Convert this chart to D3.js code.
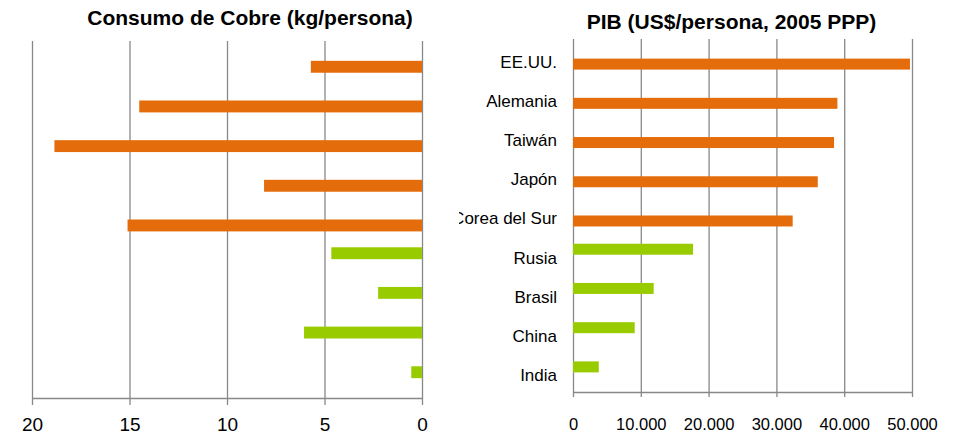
<!DOCTYPE html>
<html lang="es">
<head>
  <meta charset="UTF-8">
  <title>Consumo de Cobre y PIB</title>
  <script src="https://cdn.jsdelivr.net/npm/d3@7"></script>
  <style>
    body { margin: 0; background: #fff; }
    svg { display: block; font-family: "Liberation Sans", Arial, sans-serif; }
  </style>
</head>
<body>
<svg></svg>
<script>
  const width = 956, height = 435

  // datos
  const paises = ['EE.UU.', 'Alemania', 'Taiwán', 'Japón', 'Corea del Sur', 'Rusia', 'Brasil', 'China', 'India']
  const grupo = ['des', 'des', 'des', 'des', 'des', 'eme', 'eme', 'eme', 'eme']
  const cobre = [5.7, 14.5, 18.85, 8.1, 15.1, 4.65, 2.25, 6.05, 0.55]
  const pib = [49700, 39000, 38500, 36100, 32400, 17700, 11900, 9100, 3800]
  const ticksCobre = [0, 5, 10, 15, 20]
  const ticksPib = [0, 10000, 20000, 30000, 40000, 50000]
  const series = ['eme', 'des']
  const colores = {des: '#E46C0A', eme: '#99CC00'}

  const data = paises.map((p, i) => ({pais: p, grupo: grupo[i], cobre: cobre[i], pib: pib[i]}))

  const gris = '#888'
  const fmt = d3.formatLocale({decimal: ',', thousands: '.', grouping: [3], currency: ['$', '']}).format(',d')

  const svg = d3.select('svg')
      .attr('width', width)
      .attr('height', height)
      .attr('viewBox', [0, 0, width, height])

  // ---------- izquierda: consumo de cobre ----------
  const L = {top: 41, bottom: 398, left: 32, right: 422}

  const xL = d3.scaleLinear().domain([0, 20]).range([L.right, L.left])
  const yL = d3.scaleBand().domain(paises).range([L.top, L.bottom]).paddingInner(0.4).paddingOuter(0.2)
  const sL = d3.scaleBand().domain(series).range([0, yL.bandwidth()])

  svg.append('text')
      .attr('x', 250).attr('y', 25)
      .attr('text-anchor', 'middle')
      .attr('font-weight', 'bold')
      .attr('font-size', 21)
      .text('Consumo de Cobre (kg/persona)')

  // rejilla
  svg.append('g')
      .attr('transform', `translate(0,${L.bottom})`)
      .call(d3.axisBottom(xL).tickValues(ticksCobre).tickSize(-(L.bottom - L.top)).tickFormat(''))
      .call(g => g.select('.domain').remove())
      .call(g => g.selectAll('line').attr('stroke', gris).attr('stroke-width', 1.3))

  svg.append('g')
      .selectAll('rect')
      .data(data)
      .join('rect')
      .attr('x', d => xL(d.cobre))
      .attr('y', d => yL(d.pais) + sL(d.grupo))
      .attr('width', d => xL(0) - xL(d.cobre))
      .attr('height', sL.bandwidth())
      .attr('fill', d => colores[d.grupo])

  // eje X
  svg.append('g')
      .attr('transform', `translate(0,${L.bottom})`)
      .call(d3.axisBottom(xL).tickValues(ticksCobre).tickSize(7).tickSizeOuter(0).tickPadding(13))
      .call(g => g.select('.domain').attr('stroke', gris).attr('stroke-width', 1.5))
      .call(g => g.selectAll('line').attr('stroke', gris).attr('stroke-width', 1.3))
      .call(g => g.selectAll('text').attr('font-size', 19).attr('fill', '#000')
          .attr('font-family', '"Liberation Sans", Arial, sans-serif'))

  // ---------- derecha: PIB ----------
  const R = {top: 39, bottom: 392, left: 573, right: 912}

  const xR = d3.scaleLinear().domain([0, 50000]).range([R.left, R.right])
  const yR = d3.scaleBand().domain(paises).range([R.top, R.bottom]).paddingInner(0.44).paddingOuter(0.22)
  const sR = d3.scaleBand().domain(series).range([0, yR.bandwidth()])

  svg.append('text')
      .attr('x', 731.5).attr('y', 29)
      .attr('text-anchor', 'middle')
      .attr('font-weight', 'bold')
      .attr('font-size', 21)
      .text('PIB (US$/persona, 2005 PPP)')

  svg.append('g')
      .attr('transform', `translate(0,${R.bottom})`)
      .call(d3.axisBottom(xR).tickValues(ticksPib).tickSize(-(R.bottom - R.top)).tickFormat(''))
      .call(g => g.select('.domain').remove())
      .call(g => g.selectAll('line').attr('stroke', gris).attr('stroke-width', 1.3))

  svg.append('g')
      .selectAll('rect')
      .data(data)
      .join('rect')
      .attr('x', xR(0))
      .attr('y', d => yR(d.pais) + sR(d.grupo))
      .attr('width', d => xR(d.pib) - xR(0))
      .attr('height', sR.bandwidth())
      .attr('fill', d => colores[d.grupo])

  svg.append('g')
      .attr('transform', `translate(0,${R.bottom})`)
      .call(d3.axisBottom(xR).tickValues(ticksPib).tickFormat(fmt).tickSize(5).tickSizeOuter(0).tickPadding(21))
      .call(g => g.select('.domain').attr('stroke', gris).attr('stroke-width', 1.5))
      .call(g => g.selectAll('line').attr('stroke', gris).attr('stroke-width', 1.3))
      .call(g => g.selectAll('text').attr('font-size', 16.5).attr('fill', '#000')
          .attr('font-family', '"Liberation Sans", Arial, sans-serif'))

  // etiquetas de paises (recortadas a la izquierda como en el original)
  svg.append('clipPath').attr('id', 'recorte')
      .append('rect').attr('x', 459).attr('y', 0).attr('width', 120).attr('height', height)

  svg.append('g')
      .attr('clip-path', 'url(#recorte)')
      .selectAll('text')
      .data(paises)
      .join('text')
      .attr('x', 557)
      .attr('y', d => yR(d) + yR.bandwidth() / 2 + 3)
      .attr('dy', '0.35em')
      .attr('text-anchor', 'end')
      .attr('font-size', 17)
      .text(d => d)
</script>
</body>
</html>
